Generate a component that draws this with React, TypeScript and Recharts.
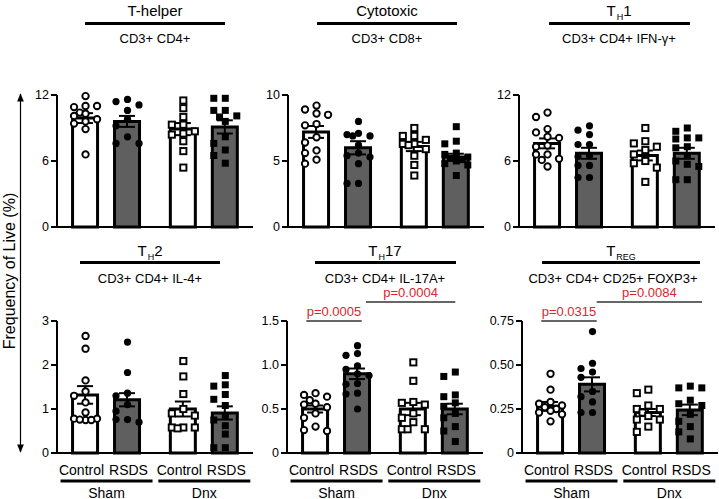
import React from 'react';
import { ComposedChart, Bar, Cell, ErrorBar, Scatter, XAxis, YAxis, ReferenceLine } from 'recharts';

const categories = ['Control', 'RSDS', 'Control', 'RSDS'];
const groups = ['Sham', 'Dnx'];

// T-helper, CD3+ CD4+
const tHelperMean = [9.9, 9.6, 8.9, 9.1];
const tHelperSem = [0.45, 0.5, 0.55, 0.6];
const tHelperPoints = [
  [11.9, 11.0, 10.9, 11.0, 10.4, 10.3, 10.1, 9.8, 9.6, 9.4, 8.9, 6.6],
  [11.6, 11.4, 11.1, 10.6, 9.8, 9.2, 8.2, 7.6, 7.6],
  [11.5, 10.8, 10.0, 9.3, 9.3, 8.7, 8.5, 8.4, 7.8, 6.9, 5.4],
  [11.7, 11.7, 10.6, 10.6, 10.1, 10.0, 9.6, 8.2, 7.6, 7.0, 6.5, 5.8],
];

// Cytotoxic, CD3+ CD8+
const cytotoxicMean = [7.2, 6.0, 6.1, 5.3];
const cytotoxicSem = [0.45, 0.5, 0.35, 0.25];
const cytotoxicPoints = [
  [9.2, 8.9, 8.6, 8.5, 7.8, 7.7, 6.8, 6.4, 5.8, 5.6, 5.1, 4.8],
  [8.0, 7.1, 7.0, 6.9, 6.9, 6.2, 5.6, 5.4, 5.3, 4.8, 3.3, 3.3],
  [7.5, 6.9, 6.9, 6.6, 6.3, 6.3, 6.2, 5.9, 5.4, 4.7, 3.9],
  [7.6, 6.5, 6.3, 5.6, 5.5, 5.3, 5.2, 5.1, 5.0, 4.8, 4.7, 3.9],
];

// TH1, CD3+ CD4+ IFN-γ+
const th1Mean = [7.6, 6.7, 6.5, 6.7];
const th1Sem = [0.45, 0.5, 0.45, 0.5];
const th1Points = [
  [10.4, 10.0, 8.9, 8.6, 8.2, 8.1, 7.4, 7.3, 6.6, 6.6, 6.2, 6.1, 5.5],
  [9.2, 8.8, 8.4, 7.5, 7.5, 6.5, 6.4, 5.6, 5.6, 4.5, 4.5],
  [9.0, 7.8, 7.6, 7.3, 7.0, 6.6, 6.0, 5.8, 5.4, 4.1],
  [9.0, 8.7, 8.1, 8.1, 8.0, 7.3, 7.2, 6.5, 6.0, 5.7, 5.5, 4.3, 4.3],
];

// TH2, CD3+ CD4+ IL-4+
const th2Mean = [1.32, 1.21, 1.0, 0.91];
const th2Sem = [0.2, 0.15, 0.17, 0.15];
const th2Points = [
  [2.66, 2.37, 1.65, 1.4, 1.3, 1.15, 0.92, 0.78, 0.78, 0.75, 0.76, 0.75],
  [2.52, 1.83, 1.36, 1.3, 1.1, 0.95, 0.76, 0.76, 0.7],
  [2.09, 1.74, 1.34, 1.0, 0.9, 0.85, 0.58, 0.58, 0.58, 0.56],
  [1.76, 1.55, 1.52, 1.33, 1.22, 1.08, 0.85, 0.75, 0.62, 0.43, 0.12, 0.12],
];

// TH17, CD3+ CD4+ IL-17A+
const th17Mean = [0.5, 0.9, 0.5, 0.5];
const th17Sem = [0.04, 0.06, 0.07, 0.06];
const th17Points = [
  [0.68, 0.66, 0.64, 0.6, 0.56, 0.55, 0.52, 0.45, 0.4, 0.3, 0.26, 0.25],
  [1.22, 1.13, 1.11, 0.99, 0.95, 0.9, 0.88, 0.79, 0.78, 0.68, 0.67, 0.5],
  [1.03, 0.82, 0.58, 0.57, 0.55, 0.45, 0.4, 0.35, 0.27, 0.27, 0.27],
  [0.92, 0.87, 0.66, 0.64, 0.57, 0.53, 0.45, 0.4, 0.3, 0.25, 0.13],
];

// TREG, CD3+ CD4+ CD25+ FOXP3+
const tregMean = [0.265, 0.39, 0.23, 0.245];
const tregSem = [0.025, 0.04, 0.02, 0.03];
const tregPoints = [
  [0.45, 0.36, 0.29, 0.28, 0.27, 0.26, 0.25, 0.24, 0.23, 0.22, 0.18],
  [0.69, 0.51, 0.48, 0.46, 0.43, 0.35, 0.32, 0.29, 0.23, 0.23],
  [0.36, 0.34, 0.27, 0.25, 0.25, 0.23, 0.21, 0.19, 0.19, 0.15, 0.12],
  [0.38, 0.37, 0.37, 0.3, 0.28, 0.27, 0.22, 0.18, 0.15, 0.12, 0.08],
];

const RED = '#d9262c';
const GREY = '#5f5f5f';
const FONT = "'Liberation Sans', Arial, sans-serif";

const Y_W = 45;
const PLOT_W = 196;
const PLOT_H = 132;
const GAP = 0.33; // extra space between Sham and Dnx
const X_DOMAIN: [number, number] = [-0.68, 3.99];
const UNIT_PX = PLOT_W / (X_DOMAIN[1] - X_DOMAIN[0]);
const xOf = (i: number) => i + (i >= 2 ? GAP : 0);
const SLOT_PX = 11.5;

// simple beeswarm: shift points sideways when they sit close to one already placed
function swarm(values: number[], thresh: number) {
  const placed: { v: number; s: number }[] = [];
  const slots = [0, -1, 1, -0.5, 0.5, -1.5, 1.5];
  return values.map((v) => {
    const near = placed.filter((p) => Math.abs(p.v - v) < thresh).map((p) => p.s);
    const s = slots.find((k) => !near.includes(k)) ?? 0;
    placed.push({ v, s });
    return s;
  });
}

const makeMarker = (kind: number) => (props: any) => {
  const { cx, cy, payload } = props;
  if (cx == null || cy == null) return <g />;
  const x = cx + (payload?.slot ?? 0) * SLOT_PX;
  const filled = kind % 2 === 1;
  const fill = filled ? '#000' : '#fff';
  if (kind < 2) {
    return <circle cx={x} cy={cy} r={filled ? 3.6 : 3.2} fill={fill} stroke="#000" strokeWidth={filled ? 0 : 1.9} />;
  }
  const s = filled ? 7 : 6.2;
  return <rect x={x - s / 2} y={cy - s / 2} width={s} height={s} fill={fill} stroke="#000" strokeWidth={filled ? 0 : 1.9} />;
};

// category label, plus the Sham / Dnx group rule under each pair
const CatTick = (props: any) => {
  const { x, y, index } = props;
  const isSecond = index % 2 === 1;
  const gx = x - UNIT_PX / 2;
  return (
    <g>
      <text x={x + (isSecond ? 1 : -4)} y={y + 22} textAnchor="middle" fontSize={14} fill="#000">
        {categories[index]}
      </text>
      {isSecond && (
        <>
          <line x1={gx - 46} x2={gx + 46} y1={y + 28} y2={y + 28} stroke="#000" strokeWidth={3} />
          <text x={gx} y={y + 44.5} textAnchor="middle" fontSize={14} fill="#000">
            {groups[(index - 1) / 2]}
          </text>
        </>
      )}
    </g>
  );
};

type Bracket = { from: number; to: number; fx: number; tx: number; level: number; label: string };

type PanelProps = {
  axisX: number;
  plotTop: number;
  means: number[];
  sems: number[];
  points: number[][];
  ticks: number[];
  fmt: (v: number) => string;
  bottom?: boolean;
  brackets?: Bracket[];
};

const Panel: React.FC<PanelProps> = ({ axisX, plotTop, means, sems, points, ticks, fmt, bottom, brackets = [] }) => {
  const yMax = ticks[ticks.length - 1];
  const marginTop = bottom ? 45 : 40;
  const xAxisH = bottom ? 46 : 2;
  const height = marginTop + PLOT_H + xAxisH + (bottom ? 0 : 5);
  const width = Y_W + PLOT_W + 6;
  const barData = categories.map((c, i) => ({ x: xOf(i), mean: means[i], sem: sems[i], name: c }));
  const scatterData = points.map((vals, i) => {
    const slots = swarm(vals, yMax * 0.055);
    return vals.map((y, k) => ({ x: xOf(i), y, slot: slots[k] }));
  });
  return (
    <div style={{ position: 'absolute', left: axisX - Y_W, top: plotTop - marginTop }}>
      <ComposedChart
        width={width}
        height={height}
        data={barData}
        margin={{ top: marginTop, right: 6, bottom: bottom ? 0 : 5, left: 0 }}
      >
        <XAxis
          dataKey="x"
          type="number"
          domain={X_DOMAIN}
          allowDataOverflow
          ticks={categories.map((_, i) => xOf(i))}
          tick={bottom ? <CatTick /> : false}
          tickLine={false}
          tickSize={0}
          tickMargin={0}
          height={xAxisH}
          axisLine={{ stroke: '#000', strokeWidth: 2 }}
          interval={0}
        />
        <YAxis
          type="number"
          domain={[0, yMax]}
          ticks={ticks}
          tickFormatter={fmt}
          width={Y_W}
          interval={0}
          tick={{ fontSize: 12.5, fill: '#000' }}
          tickSize={6}
          tickMargin={2}
          tickLine={{ stroke: '#000', strokeWidth: 2 }}
          axisLine={{ stroke: '#000', strokeWidth: 2 }}
        />
        <Bar dataKey="mean" barSize={25} stroke="#000" strokeWidth={3} isAnimationActive={false}>
          {barData.map((_, i) => (
            <Cell key={i} fill={i % 2 === 1 ? GREY : '#ffffff'} />
          ))}
          <ErrorBar dataKey="sem" width={8} stroke="#000" strokeWidth={2} direction="y" />
        </Bar>
        {scatterData.map((d, i) => (
          <Scatter key={i} data={d} dataKey="y" shape={makeMarker(i)} isAnimationActive={false} />
        ))}
        {brackets.map((b, i) => {
          const y = yMax * (1 + 0.144 * b.level);
          return (
            <ReferenceLine
              key={i}
              segment={[
                { x: xOf(b.from) + b.fx, y },
                { x: xOf(b.to) + b.tx, y },
              ]}
              stroke="#333"
              strokeWidth={1.5}
              ifOverflow="visible"
              label={{ value: b.label, position: 'top', fill: RED, fontSize: 13, offset: 5 }}
            />
          );
        })}
      </ComposedChart>
    </div>
  );
};

const Header: React.FC<{ cx: number; top: number; title: React.ReactNode; sub: string; lineW: number; subCx?: number }> = ({
  cx,
  top,
  title,
  sub,
  lineW,
  subCx,
}) => (
  <>
    <div style={{ position: 'absolute', left: cx - 100, top, width: 200, textAlign: 'center', fontSize: 15, lineHeight: '17px' }}>
      {title}
    </div>
    <div style={{ position: 'absolute', left: cx - lineW / 2, top: top + 19.5, width: lineW, height: 3, background: '#000' }} />
    <div
      style={{
        position: 'absolute',
        left: (subCx ?? cx) - 120,
        top: top + 29,
        width: 240,
        textAlign: 'center',
        fontSize: 13,
        lineHeight: '16px',
      }}
    >
      {sub}
    </div>
  </>
);

const Sub: React.FC<{ t: string }> = ({ t }) => (
  <span style={{ fontSize: 9, position: 'relative', top: 4, marginLeft: 1 }}>{t}</span>
);

const int = (v: number) => String(v);
const oneDec = (v: number) => (v === 0 ? '0' : v.toFixed(1));
const twoDec = (v: number) => (v === 0 ? '0' : v.toFixed(2));

export default function App() {
  return (
    <div
      style={{
        position: 'fixed',
        left: 0,
        top: 0,
        width: 719,
        height: 499,
        overflow: 'hidden',
        background: '#fff',
        fontFamily: FONT,
        color: '#000',
      }}
    >
      <Header cx={155} top={2} title="T-helper" sub="CD3+ CD4+" lineW={140} />
      <Header cx={387} top={2} title="Cytotoxic" sub="CD3+ CD8+" lineW={140} />
      <Header cx={619} top={2} title={<span>T<Sub t="H" />1</span>} sub="CD3+ CD4+ IFN-γ+" lineW={141} />
      <Header cx={150} top={241.5} title={<span>T<Sub t="H" />2</span>} sub="CD3+ CD4+ IL-4+" lineW={140} />
      <Header cx={385} top={241.5} title={<span>T<Sub t="H" />17</span>} sub="CD3+ CD4+ IL-17A+" lineW={141} />
      <Header cx={621} top={241.5} title={<span>T<Sub t="REG" /></span>} sub="CD3+ CD4+ CD25+ FOXP3+" lineW={158} subCx={613} />

      <Panel axisX={57} plotTop={95} means={tHelperMean} sems={tHelperSem} points={tHelperPoints} ticks={[0, 6, 12]} fmt={int} />
      <Panel axisX={288} plotTop={95} means={cytotoxicMean} sems={cytotoxicSem} points={cytotoxicPoints} ticks={[0, 5, 10]} fmt={int} />
      <Panel axisX={519} plotTop={95} means={th1Mean} sems={th1Sem} points={th1Points} ticks={[0, 6, 12]} fmt={int} />
      <Panel axisX={57} plotTop={321} means={th2Mean} sems={th2Sem} points={th2Points} ticks={[0, 1, 2, 3]} fmt={int} bottom />
      <Panel
        axisX={287}
        plotTop={321}
        means={th17Mean}
        sems={th17Sem}
        points={th17Points}
        ticks={[0, 0.5, 1, 1.5]}
        fmt={oneDec}
        bottom
        brackets={[
          { from: 0, to: 1, fx: -0.22, tx: 0.1, level: 0, label: 'p=0.0005' },
          { from: 1, to: 3, fx: 0.2, tx: 0.0, level: 1, label: 'p=0.0004' },
        ]}
      />
      <Panel
        axisX={522}
        plotTop={321}
        means={tregMean}
        sems={tregSem}
        points={tregPoints}
        ticks={[0, 0.25, 0.5, 0.75]}
        fmt={twoDec}
        bottom
        brackets={[
          { from: 0, to: 1, fx: -0.22, tx: 0.1, level: 0, label: 'p=0.0315' },
          { from: 1, to: 3, fx: 0.1, tx: 0.28, level: 1, label: 'p=0.0084' },
        ]}
      />

      <svg style={{ position: 'absolute', left: 0, top: 0 }} width={40} height={499}>
        <defs>
          <marker id="ah" viewBox="0 0 10 10" refX="9" refY="5" markerWidth="7" markerHeight="7" orient="auto-start-reverse">
            <path d="M0,1 L10,5 L0,9 z" fill="#000" />
          </marker>
        </defs>
        <line x1={20.5} x2={20.5} y1={94} y2={452} stroke="#000" strokeWidth={1.2} markerStart="url(#ah)" markerEnd="url(#ah)" />
      </svg>
      <div
        style={{
          position: 'absolute',
          left: 10 - 100,
          top: 271 - 10,
          width: 200,
          height: 20,
          lineHeight: '20px',
          textAlign: 'center',
          fontSize: 16,
          transform: 'rotate(-90deg)',
          whiteSpace: 'nowrap',
        }}
      >
        Frequency of Live (%)
      </div>
    </div>
  );
}
